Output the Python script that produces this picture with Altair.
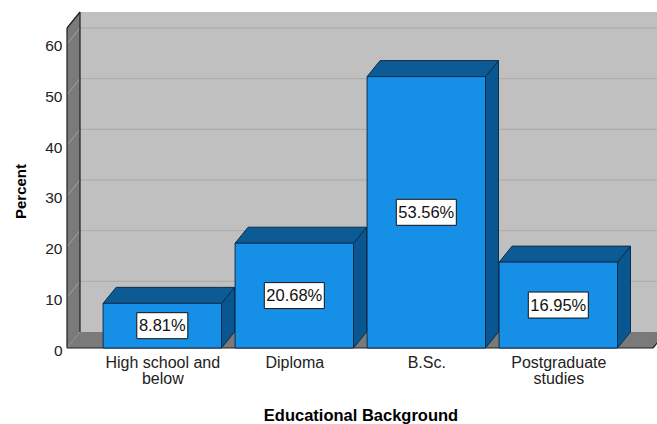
import altair as alt
import pandas as pd

# ---------------- data ----------------
CATEGORIES = ["High school and below", "Diploma", "B.Sc.", "Postgraduate studies"]
AXIS_LABELS = ["High school and|below", "Diploma", "B.Sc.", "Postgraduate|studies"]
PERCENTS = [8.81, 20.68, 53.56, 16.95]
VALUE_LABELS = ["8.81%", "20.68%", "53.56%", "16.95%"]
Y_TICKS = [0, 10, 20, 30, 40, 50, 60]

# ---------------- geometry (style) ----------------
W, H = 590, 336
PAD = {"left": 67, "top": 12, "right": 0, "bottom": 76}
STEP = 132.0                 # px per category
PPU_Y = 5.067                # px per percent
X_MIN = -(162.3 - 67) / STEP
X_MAX = X_MIN + W / STEP
Y_MAX = H / PPU_Y
DX = 13 / STEP               # depth offset (x, data units)
DY = 16 / PPU_Y              # depth offset (y, data units)
HALF = 59.2 / STEP           # half bar width
FLOOR_RIGHT = X_MIN + (653 - 67) / STEP
FONT = "Liberation Sans"

FRONT = "#1690E6"
TOP = "#0D5B94"
SIDE = "#0A5690"
EDGE = "#0B2E4F"
WALL = "#C0C0C0"
DARK = "#7A7A7A"

sx = alt.Scale(domain=[X_MIN, X_MAX], nice=False, zero=False)
sy = alt.Scale(domain=[0, Y_MAX], nice=False, zero=False)

label_array = "[" + ",".join("'" + s + "'" for s in AXIS_LABELS) + "]"
x_axis = alt.Axis(
    values=[0, 1, 2, 3],
    labelExpr=f"split({label_array}[datum.value], '|')",
    title="Educational Background",
    ticks=False, domain=False, grid=False,
    labelFont=FONT, labelFontSize=16, labelColor="#222", labelLineHeight=16,
    labelPadding=6, labelFlush=False, labelOverlap=False, labelBound=False,
    titleFont=FONT, titleFontSize=16.5, titleFontWeight="bold", titleColor="#000",
    titleX=293.5, titleY=72, titleAlign="center", titleBaseline="alphabetic",
)
y_axis = alt.Axis(
    values=Y_TICKS,
    title="Percent",
    ticks=False, domain=False, grid=False,
    labelFont=FONT, labelFontSize=15.5, labelColor="#222", labelPadding=5,
    labelOffset=2, labelFlush=False, labelOverlap=False, labelBound=False,
    titleFont=FONT, titleFontSize=15, titleFontWeight="bold", titleColor="#000",
    titleX=-47, titleY=179, titleAngle=270, titleAlign="center", titleBaseline="middle",
)


def X(f):
    return alt.X(f"{f}:Q", scale=sx, axis=x_axis)


def Y(f):
    return alt.Y(f"{f}:Q", scale=sy, axis=y_axis, stack=None)


# ---------------- frame tables ----------------
back_wall = pd.DataFrame({"x": [X_MIN + DX], "x2": [X_MAX], "y": [DY], "y2": [Y_MAX]})
back_grid = pd.DataFrame({"x": X_MIN + DX, "x2": X_MAX, "y": [v + DY for v in Y_TICKS[1:]]})
side_wall = pd.DataFrame({"x": [X_MIN, X_MIN + DX], "lo": [0, DY], "hi": [Y_MAX - DY, Y_MAX]})
side_grid = pd.DataFrame({"x": X_MIN, "x2": X_MIN + DX,
                          "y": Y_TICKS[1:], "y2": [v + DY for v in Y_TICKS[1:]]})
floor = pd.DataFrame({"x": [X_MIN, X_MIN + DX, FLOOR_RIGHT, FLOOR_RIGHT + DX],
                      "lo": [0, 0, 0, DY], "hi": [0, DY, DY, DY]})
outline = pd.DataFrame([
    {"x": X_MIN, "x2": X_MIN, "y": 0, "y2": Y_MAX - DY},
    {"x": X_MIN + DX, "x2": X_MIN + DX, "y": DY, "y2": Y_MAX},
    {"x": X_MIN, "x2": X_MIN + DX, "y": Y_MAX - DY, "y2": Y_MAX},
    {"x": X_MIN, "x2": FLOOR_RIGHT, "y": 0, "y2": 0},
    {"x": FLOOR_RIGHT, "x2": FLOOR_RIGHT + DX, "y": 0, "y2": DY},
])

# ---------------- bar tables ----------------
fronts, tops, sides, boxes = [], [], [], []
for i, (cat, v, lab) in enumerate(zip(CATEGORIES, PERCENTS, VALUE_LABELS)):
    c = float(i)
    fronts.append({"bar": cat, "x": c - HALF, "x2": c + HALF, "y": 0, "y2": v})
    for px, lo, hi in [(c - HALF, v, v), (c - HALF + DX, v, v + DY),
                       (c + HALF, v, v + DY), (c + HALF + DX, v + DY, v + DY)]:
        tops.append({"bar": cat, "x": px, "lo": lo, "hi": hi})
    for px, lo, hi in [(c + HALF, 0, v), (c + HALF + DX, DY, v + DY)]:
        sides.append({"bar": cat, "x": px, "lo": lo, "hi": hi})
    bw = (9.0 * len(lab) + 6) / 2 / STEP
    bh = 13 / PPU_Y
    boxes.append({"bar": cat, "label": lab, "cx": c, "cy": v / 2,
                  "x": c - bw, "x2": c + bw, "y": v / 2 - bh, "y2": v / 2 + bh})
fronts, tops, sides, boxes = map(pd.DataFrame, (fronts, tops, sides, boxes))

# ---------------- layers ----------------
l_wall = alt.Chart(back_wall).mark_rect(color=WALL).encode(x=X("x"), x2="x2", y=Y("y"), y2="y2")
l_grid = alt.Chart(back_grid).mark_rule(color="#A9A9A9", strokeWidth=1).encode(
    x=X("x"), x2="x2", y=Y("y"))
l_side = alt.Chart(side_wall).mark_area(color=DARK).encode(x=X("x"), y=Y("lo"), y2="hi")
l_sgrid = alt.Chart(side_grid).mark_rule(color="#A4A4A4", strokeWidth=1).encode(
    x=X("x"), x2="x2", y=Y("y"), y2="y2")
l_floor = alt.Chart(floor).mark_area(color=DARK, clip=True).encode(x=X("x"), y=Y("lo"), y2="hi")
l_out = alt.Chart(outline).mark_rule(color="#1E1E1E", strokeWidth=1.2).encode(
    x=X("x"), x2="x2", y=Y("y"), y2="y2")

l_sides = alt.Chart(sides).mark_area(color=SIDE, stroke=EDGE, strokeWidth=1).encode(
    x=X("x"), y=Y("lo"), y2="hi", detail="bar:N")
l_tops = alt.Chart(tops).mark_area(color=TOP, stroke=EDGE, strokeWidth=1).encode(
    x=X("x"), y=Y("lo"), y2="hi", detail="bar:N")
l_fronts = alt.Chart(fronts).mark_rect(color=FRONT, stroke=EDGE, strokeWidth=1).encode(
    x=X("x"), x2="x2", y=Y("y"), y2="y2")
l_boxes = alt.Chart(boxes).mark_rect(fill="white", stroke="#111", strokeWidth=1).encode(
    x=X("x"), x2="x2", y=Y("y"), y2="y2")
l_text = alt.Chart(boxes).mark_text(font=FONT, fontSize=16.5, color="#111",
                                    baseline="middle", align="center", dy=0.5).encode(
    x=X("cx"), y=Y("cy"), text="label:N")

chart = alt.layer(
    l_wall, l_grid, l_side, l_sgrid, l_floor, l_out,
    l_sides, l_tops, l_fronts, l_boxes, l_text,
).properties(
    width=W, height=H,
    autosize=alt.AutoSizeParams(type="none"),
    padding=PAD,
    background="white",
).configure_view(stroke=None)

chart.save("out.html", embed_options={"renderer": "svg", "actions": False})
